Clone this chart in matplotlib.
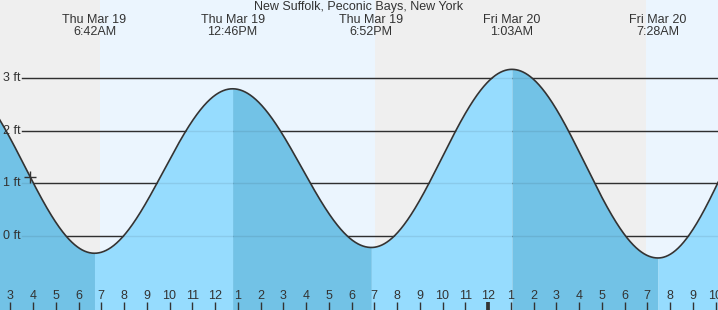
import numpy as np
import matplotlib
matplotlib.use("Agg")
import matplotlib.pyplot as plt

plt.rcParams['font.family'] = ['Liberation Sans', 'DejaVu Sans']

# hours counted from Thu Mar 19 00:00
tide_times = [0.57, 6.70, 12.77, 18.87, 25.05, 31.47, 37.40]
tide_heights = [2.98, -0.33, 2.80, -0.22, 3.17, -0.42, 3.05]
tide_labels = ["Thu Mar 19\n6:42AM", "Thu Mar 19\n12:46PM", "Thu Mar 19\n6:52PM",
               "Fri Mar 20\n1:03AM", "Fri Mar 20\n7:28AM"]
label_times = [6.70, 12.77, 18.87, 25.05, 31.47]
night_spans = [(-1.0, 6.93), (19.03, 30.93)]
y_levels = [0, 1, 2, 3]
now_time = 3.87
title = "New Suffolk, Peconic Bays, New York"

x_min, x_max = 2.547, 34.108
y_min, y_max = -1.41, 4.49

txt = '#333333'
night_bg = '#efefef'
day_bg = '#ebf5fe'
water_rise = '#96dcfe'
water_fall = '#72c2e6'


def segment(i, n=400):
    # cosine shape between one high/low and the next
    t0, t1 = tide_times[i], tide_times[i + 1]
    h0, h1 = tide_heights[i], tide_heights[i + 1]
    t = np.linspace(t0, t1, n)
    f = (t - t0) / (t1 - t0)
    return t, h1 + (h0 - h1) * (1 + np.cos(np.pi * f)) / 2


fig = plt.figure(figsize=(7.18, 3.10), dpi=100)
ax = fig.add_axes([0, 0, 1, 1])
ax.set_xlim(x_min, x_max)
ax.set_ylim(y_min, y_max)
ax.axis('off')

ax.axvspan(x_min, x_max, color=day_bg, lw=0, zorder=0)
for a, b in night_spans:
    ax.axvspan(a, b, color=night_bg, lw=0, zorder=0)

for lv in y_levels:
    ax.axhline(lv, xmin=22 / 718, xmax=1, color=txt, lw=1.0, zorder=1)
    ax.text(3 / 718, lv, f"{lv} ft", transform=ax.get_yaxis_transform(),
            ha='left', va='center', fontsize=9, color=txt, zorder=5)

all_t, all_h = [], []
for i in range(len(tide_times) - 1):
    ts, hs = segment(i)
    col = water_fall if tide_heights[i] > tide_heights[i + 1] else water_rise
    ax.fill_between(ts, y_min - 1, hs, color=col, lw=0,
                    antialiased=False, zorder=2)
    all_t.append(ts)
    all_h.append(hs)
t = np.concatenate(all_t)
h = np.concatenate(all_h)

# grid lines faintly visible through the water
for lv in y_levels:
    ax.axhline(lv, xmin=22 / 718, xmax=1, color=(0, 0, 0, 0.08), lw=1.0, zorder=3)

ax.plot(t, h, color=txt, lw=1.2, zorder=4)
ax.plot([now_time], [np.interp(now_time, t, h)], marker='+', ms=8,
        mew=1.0, color=txt, zorder=5)

ax.text(0.5, 1 - 7 / 310, title, transform=ax.transAxes, ha='center',
        va='center', fontsize=9, color=txt)
for lt, lab in zip(label_times, tide_labels):
    ax.text(lt, 1 - 26 / 310, lab, transform=ax.get_xaxis_transform(),
            ha='center', va='center', fontsize=9, color=txt, linespacing=0.95)

for hr in range(3, 35):
    lab = str(hr % 12 if hr % 12 else 12)
    ax.text(hr, 14 / 310, lab, transform=ax.get_xaxis_transform(),
            ha='center', va='center', fontsize=9, color=txt, zorder=6)
    lw = 2.7 if hr % 24 == 0 else 1.0
    ax.plot([hr, hr], [0, 8 / 310], transform=ax.get_xaxis_transform(),
            color=txt, lw=lw, solid_capstyle='butt', zorder=6)

fig.savefig('out.png', dpi=100)
